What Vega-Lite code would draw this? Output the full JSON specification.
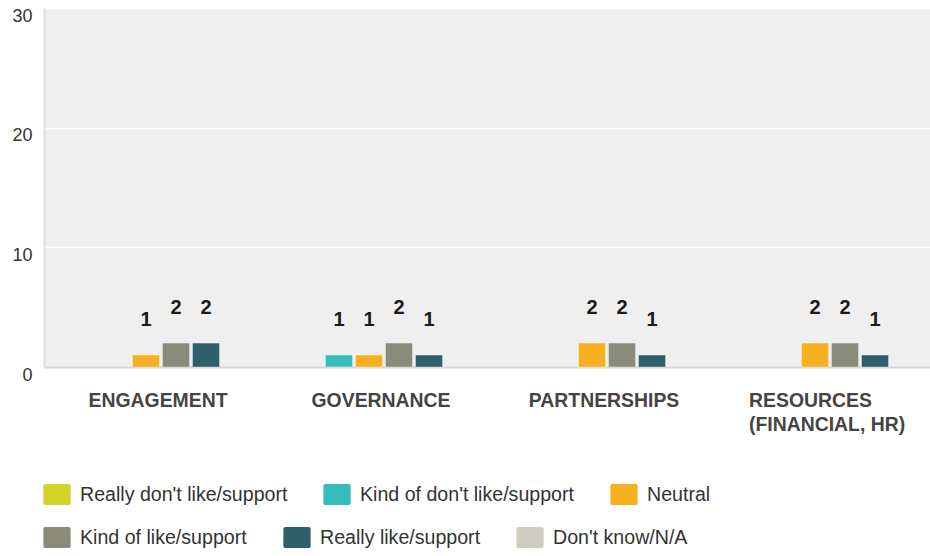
{
  "$schema": "https://vega.github.io/schema/vega-lite/v6.json",
  "autosize": {"type": "none"},
  "padding": {"left": 44, "top": 8, "right": 0, "bottom": 189},
  "width": 886,
  "height": 359,
  "background": "#ffffff",
  "config": {
    "view": {"fill": "#efefef", "stroke": null},
    "font": "Liberation Sans",
    "legend": {
      "title": null,
      "orient": "none",
      "direction": "horizontal",
      "columnPadding": 35,
      "symbolType": "M-1.1,-1H1.1A0.2,0.2 0 0 1 1.3,-0.8V0.8A0.2,0.2 0 0 1 1.1,1H-1.1A0.2,0.2 0 0 1 -1.3,0.8V-0.8A0.2,0.2 0 0 1 -1.1,-1Z",
      "symbolSize": 441,
      "symbolStrokeWidth": 0,
      "symbolOpacity": 1,
      "labelOffset": 12.5,
      "labelFont": "Liberation Sans",
      "labelFontSize": 19.6,
      "labelColor": "#333333",
      "labelLimit": 400
    }
  },
  "data": {
    "values": [
      {"topic": "ENGAGEMENT", "response": "Neutral", "count": 1},
      {"topic": "ENGAGEMENT", "response": "Kind of like/support", "count": 2},
      {"topic": "ENGAGEMENT", "response": "Really like/support", "count": 2},
      {"topic": "GOVERNANCE", "response": "Kind of don't like/support", "count": 1},
      {"topic": "GOVERNANCE", "response": "Neutral", "count": 1},
      {"topic": "GOVERNANCE", "response": "Kind of like/support", "count": 2},
      {"topic": "GOVERNANCE", "response": "Really like/support", "count": 1},
      {"topic": "PARTNERSHIPS", "response": "Neutral", "count": 2},
      {"topic": "PARTNERSHIPS", "response": "Kind of like/support", "count": 2},
      {"topic": "PARTNERSHIPS", "response": "Really like/support", "count": 1},
      {"topic": "RESOURCES (FINANCIAL, HR)", "response": "Neutral", "count": 2},
      {"topic": "RESOURCES (FINANCIAL, HR)", "response": "Kind of like/support", "count": 2},
      {"topic": "RESOURCES (FINANCIAL, HR)", "response": "Really like/support", "count": 1}
    ]
  },
  "encoding": {
    "x": {
      "field": "topic",
      "type": "nominal",
      "sort": null,
      "scale": {"paddingInner": 0.193, "paddingOuter": 0.083, "align": 0.73},
      "axis": {
        "title": null,
        "ticks": false,
        "labelAngle": 0,
        "labelFont": "Liberation Sans",
        "labelFontSize": 19.4,
        "labelFontWeight": "bold",
        "labelColor": "#444444",
        "labelBaseline": "top",
        "labelPadding": 24,
        "labelLineHeight": 24,
        "labelAlign": {"condition": {"test": "datum.value == 'RESOURCES (FINANCIAL, HR)'", "value": "left"}, "value": "center"},
        "labelOffset": {"condition": {"test": "datum.value == 'RESOURCES (FINANCIAL, HR)'", "value": -81}, "value": -3},
        "labelExpr": "datum.value == 'RESOURCES (FINANCIAL, HR)' ? ['RESOURCES', '(FINANCIAL, HR)'] : datum.value",
        "domainColor": "#d6d6d6",
        "domainWidth": 2,
        "grid": false
      }
    },
    "xOffset": {
      "field": "response",
      "type": "nominal",
      "scale": {
        "domain": ["Really don't like/support", "Kind of don't like/support", "Neutral", "Kind of like/support", "Really like/support", "Don't know/N/A"],
        "paddingInner": 0.1,
        "paddingOuter": 0.05
      }
    },
    "y": {
      "field": "count",
      "type": "quantitative",
      "scale": {"domain": [0, 30], "nice": false},
      "axis": {
        "title": null,
        "values": [0, 10, 20, 30],
        "ticks": false,
        "labelFont": "Liberation Sans",
        "labelFontSize": 18,
        "labelColor": "#333333",
        "labelBaseline": "top",
        "labelPadding": 12,
        "labelOffset": -1,
        "domainColor": "#dddddd",
        "domainWidth": 2,
        "gridColor": "#ffffff",
        "gridWidth": 1.5
      }
    }
  },
  "layer": [
    {
      "mark": {"type": "bar", "stroke": "#ffffff", "strokeOpacity": 0.35, "strokeWidth": 1},
      "encoding": {
        "color": {
          "field": "response",
          "type": "nominal",
          "scale": {
            "domain": ["Really don't like/support", "Kind of don't like/support", "Neutral", "Kind of like/support", "Really like/support", "Don't know/N/A"],
            "range": ["#d2d428", "#35bdbd", "#f7b020", "#8a8b78", "#2e5f6b", "#cfcec1"]
          },
          "legend": {
            "legendX": 2.5,
            "legendY": 476,
            "values": ["Really don't like/support", "Kind of don't like/support", "Neutral"]
          }
        }
      }
    },
    {
      "mark": {"type": "bar", "opacity": 0},
      "encoding": {
        "color": {
          "field": "response",
          "type": "nominal",
          "scale": {
            "domain": ["Really don't like/support", "Kind of don't like/support", "Neutral", "Kind of like/support", "Really like/support", "Don't know/N/A"],
            "range": ["#d2d428", "#35bdbd", "#f7b020", "#8a8b78", "#2e5f6b", "#cfcec1"]
          },
          "legend": {
            "legendX": 2.5,
            "legendY": 519,
            "values": ["Kind of like/support", "Really like/support", "Don't know/N/A"]
          }
        }
      }
    },
    {
      "mark": {"type": "text", "baseline": "alphabetic", "dy": -29, "fontSize": 20, "fontWeight": "bold", "font": "Liberation Sans", "color": "#1a1a1a"},
      "encoding": {
        "text": {"field": "count", "type": "quantitative"}
      }
    }
  ],
  "resolve": {"scale": {"color": "independent"}, "legend": {"color": "independent"}}
}
